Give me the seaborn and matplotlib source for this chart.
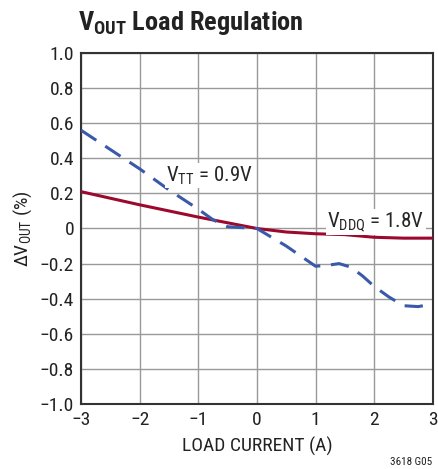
import numpy as np
import pandas as pd
import seaborn as sns
import matplotlib.pyplot as plt

#  Данные
vtt_x = [-3, -2.5, -2, -1.5, -1, -0.75, -0.5, -0.25, 0, 0.5, 1, 1.2, 1.4, 1.6, 1.8, 2, 2.25, 2.5, 2.75, 3]
vtt_y = [0.56, 0.45, 0.34, 0.22, 0.11, 0.05, 0.01, 0.005, 0.0, -0.1, -0.215, -0.21, -0.2, -0.22, -0.27, -0.33, -0.39, -0.44, -0.445, -0.43]
vddq_x = [-3, -2, -1, 0, 0.5, 1, 1.5, 2, 2.5, 3]
vddq_y = [0.21, 0.135, 0.065, 0.0, -0.02, -0.03, -0.035, -0.05, -0.055, -0.055]
x_ticks = [-3, -2, -1, 0, 1, 2, 3]
y_ticks = np.round(np.arange(-1.0, 1.01, 0.2), 1)

sns.set_style('white')
font = ['Roboto Condensed', 'DejaVu Sans']
plt.rcParams['font.family'] = font
plt.rcParams['mathtext.fontset'] = 'custom'
plt.rcParams['mathtext.rm'] = 'Roboto Condensed'
plt.rcParams['mathtext.bf'] = 'Roboto Condensed:bold'

fig = plt.figure(figsize=(4.39, 4.69), dpi=100)
ax = fig.add_axes([0.1845, 0.1386, 0.8015, 0.7484])

vtt = pd.DataFrame({'x': vtt_x, 'y': vtt_y})
vddq = pd.DataFrame({'x': vddq_x, 'y': vddq_y})
sns.lineplot(data=vddq, x='x', y='y', ax=ax, color='#9b0a2e', lw=2.2, zorder=3)
sns.lineplot(data=vtt, x='x', y='y', ax=ax, color='#3a59a8', lw=2.2, zorder=3)
ax.lines[1].set_dashes([6, 3.5])

ax.set_xlim(-3, 3)
ax.set_ylim(-1, 1)
ax.set_xticks(x_ticks)
ax.set_xticklabels([str(v).replace('-', '\u2212') for v in x_ticks])
ax.set_yticks(y_ticks)
ax.set_yticklabels(['0' if v == 0 else f'{v:.1f}'.replace('-', '\u2212') for v in y_ticks])
ax.tick_params(length=0, labelsize=14, pad=5, colors='#222222')
ax.grid(True, color='#999999', lw=1)
for s in ax.spines.values():
    s.set_color('#333333')
    s.set_linewidth(1.5)

ax.set_xlabel('LOAD CURRENT (A)', fontsize=14, labelpad=6, color='#222222')
ax.set_ylabel('\u0394V$_{\\mathrm{OUT}}$ (%)', fontsize=14, labelpad=4, color='#222222')

box = dict(facecolor='white', edgecolor='none', pad=1)
ax.text(-1.55, 0.27, 'V$_{\\mathrm{TT}}$ = 0.9V', fontsize=15, bbox=box, zorder=4)
ax.text(1.2, 0.01, 'V$_{\\mathrm{DDQ}}$ = 1.8V', fontsize=15, bbox=box, zorder=4)

fig.text(0.178, 0.937, '$\\mathbf{V_{OUT}}$ Load Regulation', fontsize=19, fontweight='bold', color='#222222')
fig.text(0.985, 0.005, '3618 G05', fontsize=8, ha='right', va='bottom', color='#222222')

fig.savefig('out.png', dpi=100)
